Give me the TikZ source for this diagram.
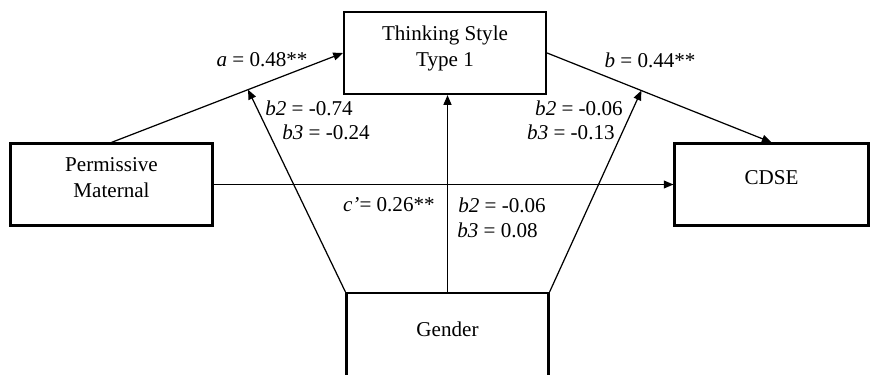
\documentclass[tikz,border=0pt]{standalone}
\usepackage{fontspec}
\setmainfont{Liberation Serif}
\usetikzlibrary{arrows.meta}
\tikzset{var/.style={draw,rectangle,line width=1.25pt,minimum width=4.04cm,minimum height=1.64cm,align=center,text depth=0.28cm,font=\fontsize{12}{14.8}\selectfont},
 arr/.style={line width=0.7pt,-{Triangle[length=5.5pt,width=4.5pt]}},
 coef/.style={inner sep=0pt,font=\fontsize{12}{14.8}\selectfont}}

\begin{document}
\begin{tikzpicture}[x=1cm,y=1cm]
\useasboundingbox (0,0) rectangle (17.42,7.48);
\node[var](ts) at(8.9,6.42){Thinking Style\\Type 1};
\node[var](pm) at(2.23,3.79){Permissive\\Maternal};
\node[var,minimum width=3.88cm](cd) at(15.43,3.79){CDSE};
\node[var,minimum height=1.74cm](gd) at(8.95,0.75){Gender};
\draw[arr](pm.north)--(ts.west)coordinate[pos=0.59](am);
\draw[arr](ts.east)--(cd.north)coordinate[pos=0.42](bm);
\draw[arr](pm.east)--(cd.west);
\draw[arr](gd.north)--(gd.north|-ts.south);
\draw[arr](gd.north west)--(am);\draw[arr](gd.north east)--(bm);
\node[coef](la) at(5.24,6.28){\textit{a} = 0.48**};
\node[coef](lb) at(13.0,6.28){\textit{b} = 0.44**};
\node[coef,anchor=west](l1) at(5.30,5.32){\textit{b2} = -0.74};
\node[coef,anchor=west](l2) at(5.64,4.84){\textit{b3} = -0.24};
\node[coef,anchor=east](r1) at(12.46,5.32){\textit{b2} = -0.06};
\node[coef,anchor=east](r2) at(12.30,4.84){\textit{b3} = -0.13};
\node[coef,anchor=east](lc) at(8.7,3.38){\textit{c'}= 0.26**};
\node[coef,anchor=west](m1) at(9.16,3.38){\textit{b2} = -0.06};
\node[coef,anchor=west](m2) at(9.14,2.88){\textit{b3} = 0.08};
\end{tikzpicture}
\end{document}
